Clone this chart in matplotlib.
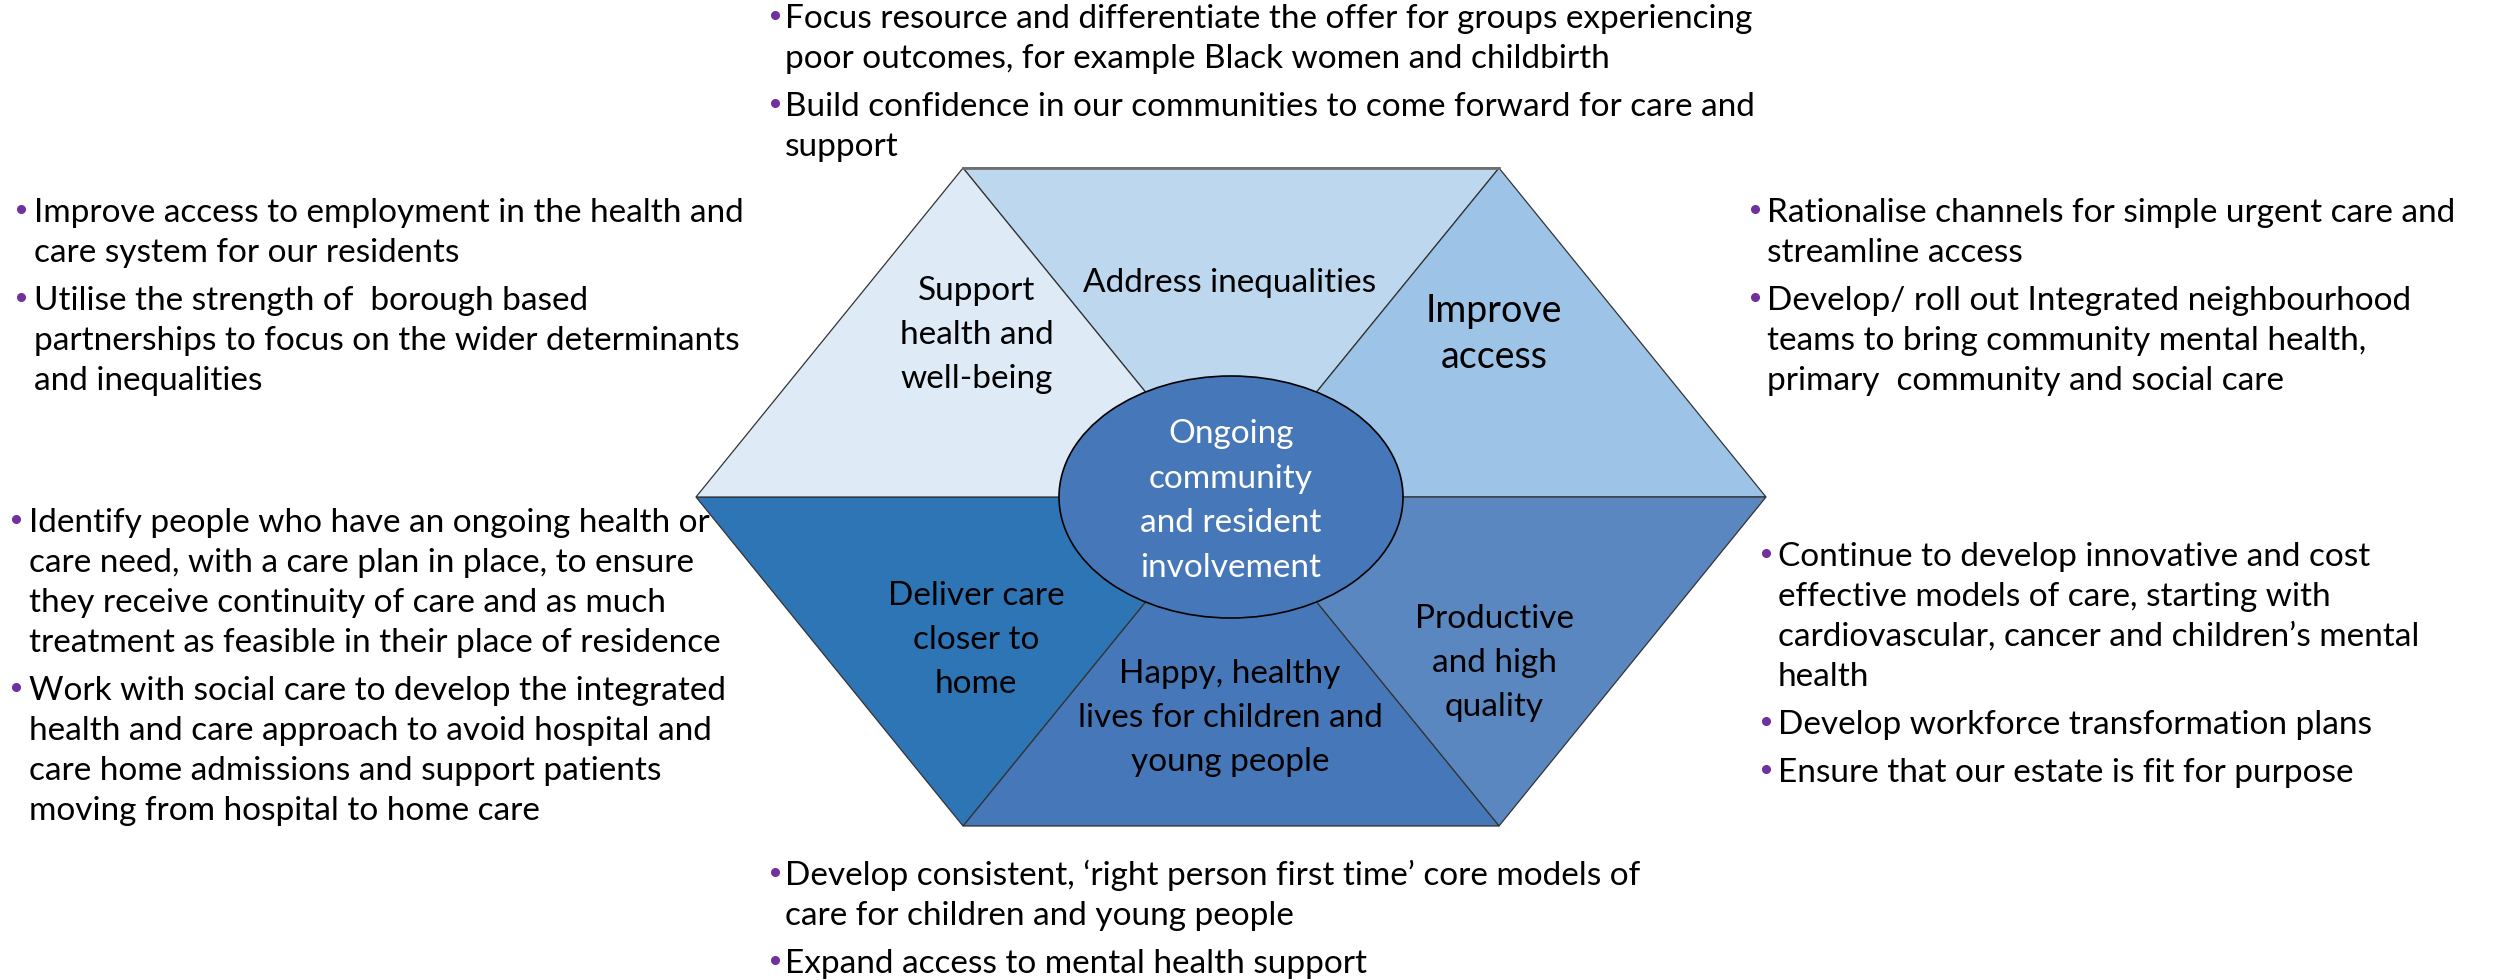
import matplotlib
matplotlib.use('Agg')
import matplotlib.pyplot as plt
from matplotlib.patches import Polygon, Ellipse

plt.rcParams['font.family'] = ['Lato', 'DejaVu Sans']

# six segments, clockwise from the top one
segment_labels = ['Address inequalities',
                  'Improve\naccess',
                  'Productive\nand high\nquality',
                  'Happy, healthy\nlives for children and\nyoung people',
                  'Deliver care\ncloser to\nhome',
                  'Support\nhealth and\nwell-being']
segment_colors = ['#BDD7EE', '#9DC3E6', '#5A87C0', '#4677B8', '#2E75B6', '#DEEAF6']
centre_label = 'Ongoing\ncommunity\nand resident\ninvolvement'

top_points = [['Focus resource and differentiate the offer for groups experiencing',
               'poor outcomes, for example Black women and childbirth'],
              ['Build confidence in our communities to come forward for care and',
               'support']]
left_top_points = [['Improve access to employment in the health and',
                    'care system for our residents'],
                   ['Utilise the strength of  borough based',
                    'partnerships to focus on the wider determinants',
                    'and inequalities']]
left_bottom_points = [['Identify people who have an ongoing health or',
                       'care need, with a care plan in place, to ensure',
                       'they receive continuity of care and as much',
                       'treatment as feasible in their place of residence'],
                      ['Work with social care to develop the integrated',
                       'health and care approach to avoid hospital and',
                       'care home admissions and support patients',
                       'moving from hospital to home care']]
right_top_points = [['Rationalise channels for simple urgent care and',
                     'streamline access'],
                    ['Develop/ roll out Integrated neighbourhood',
                     'teams to bring community mental health,',
                     'primary  community and social care']]
right_bottom_points = [['Continue to develop innovative and cost',
                        'effective models of care, starting with',
                        'cardiovascular, cancer and children\u2019s mental',
                        'health'],
                       ['Develop workforce transformation plans'],
                       ['Ensure that our estate is fit for purpose']]
bottom_points = [['Develop consistent, \u2018right person first time\u2019 core models of',
                  'care for children and young people'],
                 ['Expand access to mental health support']]

# layout (pixel space, y down)
cx, cy = 1231, 497
hh, top_hw, mid_hw = 329, 268, 535
verts = [(cx - top_hw, cy - hh), (cx + top_hw, cy - hh), (cx + mid_hw, cy),
         (cx + top_hw, cy + hh), (cx - top_hw, cy + hh), (cx - mid_hw, cy)]
label_pos = [(1230, 292), (1494, 322), (1494, 628), (1230, 683), (976, 605), (977, 300)]
label_size = [24, 27, 24, 24, 24, 24]

fig = plt.figure(figsize=(25.01, 9.8), dpi=100)
ax = fig.add_axes([0, 0, 1, 1])
ax.set_xlim(0, 2501)
ax.set_ylim(980, 0)
ax.axis('off')

for i in range(6):
    tri = [(cx, cy), verts[i], verts[(i + 1) % 6]]
    ax.add_patch(Polygon(tri, closed=True, facecolor=segment_colors[i],
                         edgecolor='#333333', linewidth=0.9))
    x, y = label_pos[i]
    step = 44 if label_size[i] == 24 else 46
    for k, line in enumerate(segment_labels[i].split('\n')):
        ax.text(x, y + k * step, line, ha='center', va='baseline',
                fontsize=label_size[i], color='black')

# top edge looks a bit heavier
ax.plot([verts[0][0], verts[1][0]], [verts[0][1], verts[1][1]], color='#6f6f6f', lw=2)

ax.add_patch(Ellipse((cx, cy), 344, 242, facecolor='#4677B8', edgecolor='black', linewidth=1.2))
for k, line in enumerate(centre_label.split('\n')):
    ax.text(cx, 443 + k * 44.7, line, ha='center', va='baseline', fontsize=24, color='white')


def bullets(points, tx, bx, y0):
    y = y0
    for item in points:
        ax.plot(bx, y - 13, 'o', color='#7030A0', markersize=5.5)
        for line in item:
            ax.text(tx, y, line, ha='left', va='baseline', fontsize=24, color='black')
            y += 40
        y += 8


bullets(top_points, 785, 775, 28)
bullets(left_top_points, 34, 21, 222)
bullets(left_bottom_points, 29, 16, 532)
bullets(right_top_points, 1767, 1755, 222)
bullets(right_bottom_points, 1778, 1766, 566)
bullets(bottom_points, 785, 775, 885)

fig.savefig('out.png', dpi=100)
